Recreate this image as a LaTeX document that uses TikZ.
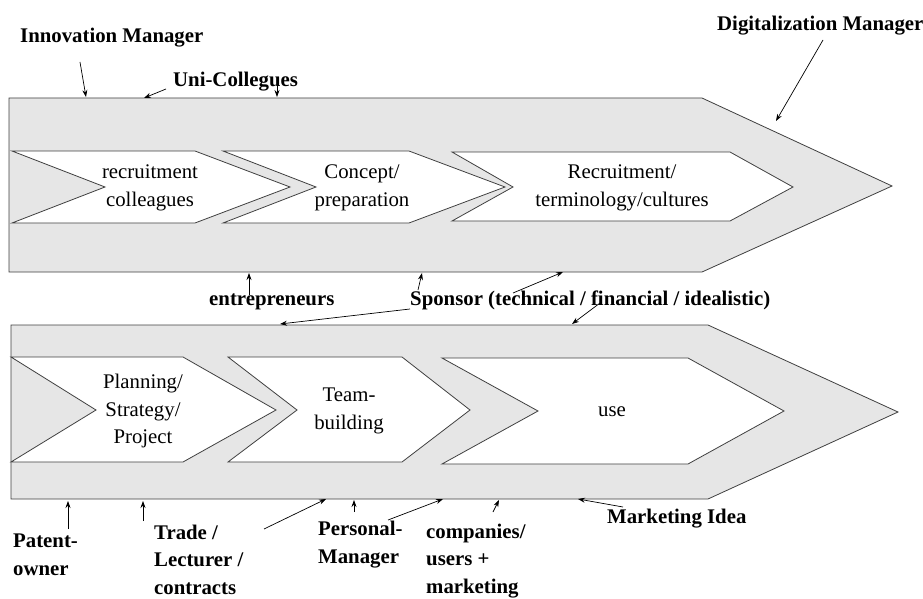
\documentclass[tikz,border=0pt]{standalone}
\usepackage{fontspec}
\setmainfont{Liberation Serif}
\usetikzlibrary{arrows.meta}
\definecolor{bandgray}{RGB}{230,230,230}

\begin{document}
\begin{tikzpicture}[x=1pt,y=-1pt,
  band/.style={fill=bandgray,draw=black!75,line width=0.8pt},
  chev/.style={fill=white,draw=black!75,line width=0.8pt},
  stage/.style={align=center,inner sep=0pt,font=\fontsize{20.8}{27.5}\selectfont},
  actor/.style={align=left,anchor=base west,inner sep=0pt,
    font=\bfseries\fontsize{20.8}{27.5}\selectfont},
  link/.style={-{Stealth[length=7pt,width=5pt]},line width=0.7pt}]
  \useasboundingbox (0,0) rectangle (923,599);

  % upper process arrow
  \draw[band] (9,98) -- (702,98) -- (892,186) -- (702,272) -- (9,272) -- cycle;
  \draw[chev] (12,151) -- (195,151) -- (290,187) -- (195,223) -- (12,223) -- (105,187) -- cycle;
  \draw[chev] (223,151) -- (409,151) -- (505,187) -- (409,223) -- (223,223) -- (316,187) -- cycle;
  \draw[chev] (452,152) -- (730,152) -- (793,187) -- (730,221) -- (452,221) -- (513,187) -- cycle;

  % lower process arrow
  \draw[band] (11,325) -- (708,325) -- (898,412) -- (708,499) -- (11,499) -- cycle;
  \draw[chev] (11,357) -- (183,357) -- (276,410) -- (183,462) -- (11,462) -- (96,410) -- cycle;
  \draw[chev] (228,357) -- (402,357) -- (470,410) -- (402,462) -- (228,462) -- (297,410) -- cycle;
  \draw[chev] (442,358) -- (688,358) -- (784,411) -- (688,464) -- (442,464) -- (538,411) -- cycle;

  \node[stage] (recruit) at (150,188) {recruitment\\colleagues};
  \node[stage] (concept) at (362,188) {Concept/\\preparation};
  \node[stage] (terms) at (622,188) {Recruitment/\\terminology/cultures};
  \node[stage] (planning) at (143,411) {Planning/\\Strategy/\\Project};
  \node[stage] (team) at (349,411) {Team-\\building};
  \node[stage] (use) at (612,412) {use};

  % actors (base = last line)
  \node[actor] (innov) at (20,43) {Innovation Manager};
  \node[actor] (uni) at (173,87) {Uni-Collegues};
  \node[actor] (digi) at (717,31) {Digitalization Manager};
  \node[actor] (entre) at (209,305) {entrepreneurs};
  \node[actor] (sponsor) at (410,305) {Sponsor (technical / financial / idealistic)};
  \node[actor] (patent) at (13,575) {Patent-\\owner};
  \node[actor] (trade) at (154,594) {Trade /\\Lecturer /\\contracts};
  \node[actor] (personal) at (318,563) {Personal-\\Manager};
  \node[actor] (comp) at (426,593) {companies/\\users +\\marketing};
  \node[actor] (market) at (607,523) {Marketing Idea};

  % arrow ends
  \coordinate (innov-t) at (80,62);    \coordinate (innov-h) at (86,97);
  \coordinate (uni-t) at (166,89);     \coordinate (uni-h) at (144,98);
  \coordinate (uni2-t) at (277,84);    \coordinate (uni2-h) at (277,97);
  \coordinate (digi-t) at (823,40);    \coordinate (digi-h) at (776,121);
  \coordinate (entre-t) at (249,295);  \coordinate (entre-h) at (249,273);
  \coordinate (spon-t) at (410,309);   \coordinate (spon-h) at (280,324);
  \coordinate (spon2-t) at (418,290);  \coordinate (spon2-h) at (422,273);
  \coordinate (tech-t) at (513,293);   \coordinate (tech-h) at (563,272);
  \coordinate (fin-t) at (600,303);    \coordinate (fin-h) at (572,324);
  \coordinate (patent-t) at (68,529);  \coordinate (patent-h) at (68,501);
  \coordinate (trade-t) at (143,521);  \coordinate (trade-h) at (143,501);
  \coordinate (free-t) at (264,529);   \coordinate (free-h) at (326,499);
  \coordinate (pers-t) at (354,512);   \coordinate (pers-h) at (354,500);
  \coordinate (pers2-t) at (388,520);  \coordinate (pers2-h) at (443,499);
  \coordinate (comp-t) at (493,512);   \coordinate (comp-h) at (499,500);
  \coordinate (market-t) at (623,507); \coordinate (market-h) at (578,499);

  \draw[link] (innov-t) -- (innov-h);
  \draw[link] (uni-t) -- (uni-h);
  \draw[link] (uni2-t) -- (uni2-h);
  \draw[link] (digi-t) -- (digi-h);
  \draw[link] (entre-t) -- (entre-h);
  \draw[link] (spon-t) -- (spon-h);
  \draw[link] (spon2-t) -- (spon2-h);
  \draw[link] (tech-t) -- (tech-h);
  \draw[link] (fin-t) -- (fin-h);
  \draw[link] (patent-t) -- (patent-h);
  \draw[link] (trade-t) -- (trade-h);
  \draw[link] (free-t) -- (free-h);
  \draw[link] (pers-t) -- (pers-h);
  \draw[link] (pers2-t) -- (pers2-h);
  \draw[link] (comp-t) -- (comp-h);
  \draw[link] (market-t) -- (market-h);
\end{tikzpicture}
\end{document}
